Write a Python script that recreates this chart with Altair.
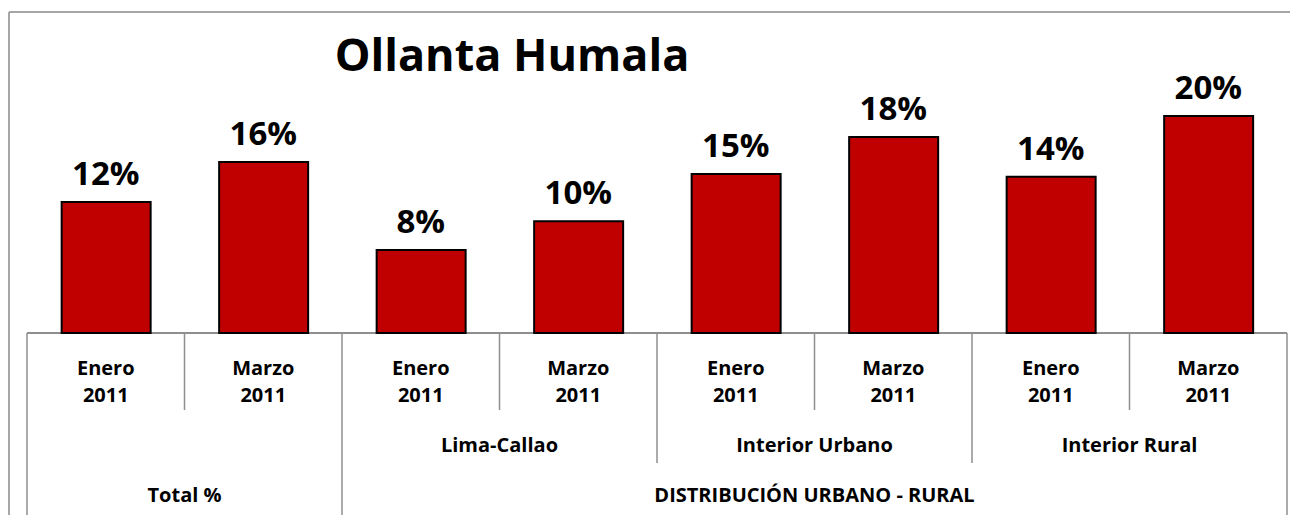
import altair as alt
import pandas as pd

# ---- data ----
titulo = "Ollanta Humala"
meses = ["Enero", "Marzo", "Enero", "Marzo", "Enero", "Marzo", "Enero", "Marzo"]
anios = ["2011", "2011", "2011", "2011", "2011", "2011", "2011", "2011"]
valores = [12.07, 15.76, 7.65, 10.3, 14.65, 18.06, 14.4, 20.0]
grupos = ["", "", "Lima-Callao", "Lima-Callao", "Interior Urbano", "Interior Urbano",
          "Interior Rural", "Interior Rural"]
secciones = ["Total %", "Total %", "DISTRIBUCIÓN URBANO - RURAL", "DISTRIBUCIÓN URBANO - RURAL",
             "DISTRIBUCIÓN URBANO - RURAL", "DISTRIBUCIÓN URBANO - RURAL",
             "DISTRIBUCIÓN URBANO - RURAL", "DISTRIBUCIÓN URBANO - RURAL"]

FONT = "Open Sans"
RED = "#C00000"
GRID = "#8f8f8f"
FRAME = "#a6a6a6"

n = len(valores)
bars = pd.DataFrame({
    "i": list(range(n)),
    "mes": meses,
    "anio": anios,
    "valor": valores,
})
bars["x0"] = bars["i"] + 0.22
bars["x1"] = bars["i"] + 0.785
bars["xc"] = bars["i"] + 0.5
bars["cero"] = 0.0
bars["label"] = [f"{round(v):d}%" for v in valores]


def spans(names):
    out = []
    start = 0
    for k in range(1, n + 1):
        if k == n or names[k] != names[start]:
            out.append({"name": names[start], "a": float(start), "b": float(k),
                        "c": (start + k) / 2})
            start = k
    return pd.DataFrame(out)


g_df = spans(grupos)
s_df = spans(secciones)

sec_bounds = sorted(set(s_df["a"].tolist()) | set(s_df["b"].tolist()))
grp_bounds = sorted((set(g_df["a"].tolist()) | set(g_df["b"].tolist())) - set(sec_bounds))
mes_bounds = sorted(set(float(k) for k in range(n + 1)) - set(sec_bounds) - set(grp_bounds))

W, H = 1260, 318
YMAX = 29.3
xs = alt.Scale(domain=[0, n])
ys = alt.Scale(domain=[0, YMAX])
px_x = n / W          # data units per pixel (x)
px_y = YMAX / H       # data units per pixel (y)

base = alt.Chart(bars)

bar_layer = base.mark_bar(fill=RED, stroke="black", strokeWidth=2).encode(
    x=alt.X("x0:Q", scale=xs, axis=None),
    x2="x1:Q",
    y=alt.Y("valor:Q", scale=ys, axis=None),
    y2="cero:Q",
)

val_text = base.mark_text(font=FONT, fontWeight="bold", fontSize=33, color="black",
                          baseline="alphabetic", dy=-17).encode(
    x=alt.X("xc:Q", scale=xs, axis=None),
    y=alt.Y("valor:Q", scale=ys, axis=None),
    text="label:N",
)

LBL = 20
mes_text = base.mark_text(font=FONT, fontWeight="bold", fontSize=LBL, color="black",
                          baseline="middle").encode(
    x=alt.X("xc:Q", scale=xs, axis=None), y=alt.value(354), text="mes:N")
anio_text = base.mark_text(font=FONT, fontWeight="bold", fontSize=LBL, color="black",
                           baseline="middle").encode(
    x=alt.X("xc:Q", scale=xs, axis=None), y=alt.value(381), text="anio:N")

grp_text = alt.Chart(g_df[g_df["name"] != ""]).mark_text(
    font=FONT, fontWeight="bold", fontSize=LBL, color="black", baseline="middle").encode(
    x=alt.X("c:Q", scale=xs, axis=None), y=alt.value(431), text="name:N")
sec_text = alt.Chart(s_df).mark_text(
    font=FONT, fontWeight="bold", fontSize=LBL, color="black", baseline="middle").encode(
    x=alt.X("c:Q", scale=xs, axis=None), y=alt.value(481), text="name:N")

axis_df = pd.DataFrame({"a": [0.0], "b": [float(n)], "cero": [0.0]})
baseline_rule = alt.Chart(axis_df).mark_rule(color=GRID, strokeWidth=2).encode(
    x=alt.X("a:Q", scale=xs, axis=None), x2="b:Q",
    y=alt.Y("cero:Q", scale=ys, axis=None))


def dividers(bounds, y2):
    return alt.Chart(pd.DataFrame({"b": bounds})).mark_rule(
        color=GRID, strokeWidth=1.5).encode(
        x=alt.X("b:Q", scale=xs, axis=None), y=alt.value(H), y2=alt.value(y2))


div_mes = dividers(mes_bounds, 395)
div_grp = dividers(grp_bounds, 448)
div_sec = dividers(sec_bounds, 520)

# decorative outer frame (top and left border of the chart area)
frame_df = pd.DataFrame({
    "x0": [-18 * px_x, -18 * px_x],
    "x1": [(W + 20) * px_x, -18 * px_x],
    "y0": [YMAX + 3 * px_y, YMAX + 3 * px_y],
    "y1": [YMAX + 3 * px_y, YMAX - 520 * px_y],
})
frame = alt.Chart(frame_df).mark_rule(color=FRAME, strokeWidth=2).encode(
    x=alt.X("x0:Q", scale=xs, axis=None), x2="x1:Q",
    y=alt.Y("y0:Q", scale=ys, axis=None), y2="y1:Q")

title_df = pd.DataFrame({"t": [titulo], "x": [485 * px_x]})
title_text = alt.Chart(title_df).mark_text(
    font=FONT, fontWeight="bold", fontSize=45, color="black", baseline="alphabetic",
    align="center").encode(
    x=alt.X("x:Q", scale=xs, axis=None), y=alt.value(56), text="t:N")

chart = alt.layer(
    frame, baseline_rule, div_mes, div_grp, div_sec,
    bar_layer, val_text, mes_text, anio_text, grp_text, sec_text, title_text,
).properties(
    width=W, height=H,
    autosize=alt.AutoSizeParams(type="none"),
    padding={"left": 19, "top": 7, "right": 3, "bottom": 182},
    background="white",
).configure_view(stroke=None)

chart.save("out.html", embed_options={"renderer": "svg", "actions": False})
